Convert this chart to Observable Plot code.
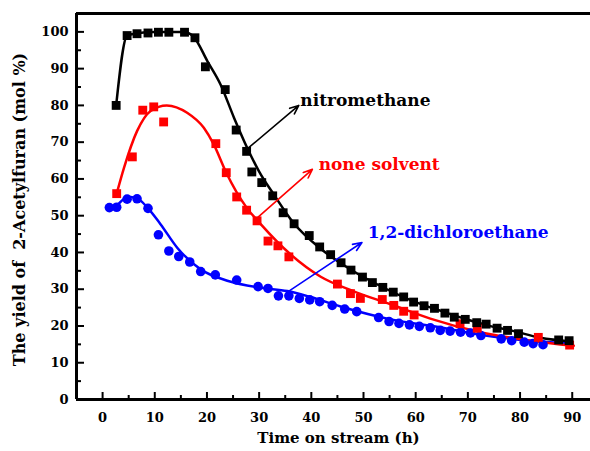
<!DOCTYPE html>
<html>
<head>
<meta charset="utf-8">
<script src="https://cdn.jsdelivr.net/npm/d3@7"></script>
<script src="https://cdn.jsdelivr.net/npm/@observablehq/plot@0.6"></script>
<style>
  html, body { margin: 0; padding: 0; background: #fff; }
</style>
</head>
<body>
<div id="chart"></div>
<script>
// ---- measured data points ----
const nitroX = [2.6,4.7,6.6,8.7,10.7,12.7,15.7,17.7,19.7,23.5,25.6,27.6,28.6,30.5,32.6,34.6,36.7,39.6,41.6,43.7,45.7,47.6,49.8,51.7,53.7,55.7,57.7,59.6,61.6,63.6,65.6,67.4,69.5,71.7,73.5,75.6,77.6,79.7,87.4,89.4];
const nitroY = [80.0,99.0,99.5,99.7,99.9,99.9,99.9,98.4,90.5,84.3,73.3,67.5,61.9,59.0,55.4,50.8,47.8,44.6,41.5,39.4,37.2,35.2,33.3,31.8,30.5,29.2,27.9,26.5,25.5,24.8,23.5,22.4,21.8,20.9,20.5,19.4,18.8,17.9,16.2,16.0];

const noneX = [2.7,5.7,7.7,9.8,11.7,21.7,23.7,25.7,27.6,29.6,31.7,33.6,35.7,45.0,47.5,49.4,53.6,55.8,57.7,59.7,68.5,71.8,83.5,89.5];
const noneY = [56.0,66.0,78.7,79.6,75.5,69.6,61.7,55.1,51.5,48.6,43.1,41.8,38.8,31.4,28.8,27.5,27.2,25.6,24.0,23.0,20.6,19.4,16.9,14.8];

const dceX = [1.3,2.7,4.7,6.6,8.7,10.7,12.7,14.6,16.7,18.8,21.6,25.7,29.8,31.7,33.7,35.7,37.7,39.7,41.6,44.0,46.4,48.7,52.9,54.9,56.8,58.8,60.7,62.8,64.7,66.6,68.6,70.5,72.5,76.4,78.4,80.8,82.5,84.4];
const dceY = [52.2,52.3,54.5,54.6,52.0,44.8,40.4,38.9,37.4,34.8,33.9,32.5,30.7,30.2,28.2,28.2,27.5,27.1,26.6,25.6,24.6,23.9,22.3,21.2,20.7,20.3,19.9,19.5,18.8,18.6,18.3,18.1,17.4,16.5,16.0,15.6,15.2,14.9];

// ---- fitted curves ----
const nitroFitX = [2.6,4.7,6.6,10,15.7,17.5,20.1,22.6,25.2,27.7,30,32.8,36.6,41.8,47.6,53.6,59.6,64.8,70,74,78.8,83.9,89.7];
const nitroFitY = [80,99,99.6,100,100,98.6,92,85.7,76.6,68.5,62,55.8,48,41,35.3,30.6,26.7,24.1,21.7,20.1,18.6,16.8,15.8];

const noneFitX = [2.7,4.1,6.6,9.2,12.3,16.2,19.4,21.3,23.7,27.6,30.3,36,41.8,48,55.2,62.8,72.4,82,90.3];
const noneFitY = [56,63,73,78.5,80,78,73.9,69.4,61.7,52.2,47.7,39.5,33.4,29.5,25.9,22,18.3,16,14.6];

const dceFitX = [1.3,2.7,4.3,5.4,7,8.6,11.1,14.3,18.8,23.9,30.3,35.4,40,45.6,55.2,64.8,72.4,82,89.5];
const dceFitY = [52.2,52.8,54.8,55.1,54.4,52.2,47.7,41.3,35.4,32.3,30.4,29.5,27.8,25.3,21.8,19.6,17.6,16,15.2];

// ---- annotations ----
const annotText = ["nitromethane", "none solvent", "1,2-dichloroethane"];
const annotX = [37.9, 41.4, 50.8];
const annotY = [81.2, 64.0, 45.3];
const arrowX1 = [28.0, 29.8, 35.7];
const arrowY1 = [68.5, 49.6, 29.5];
const arrowX2 = [37.6, 40.2, 49.7];
const arrowY2 = [80.0, 62.6, 42.7];
const seriesColor = ["#000000", "#ff0000", "#0000ff"];

// ---- axis titles and ticks ----
const xTitle = "Time on stream (h)";
const yTitle = "The yield of\u00a0 2-Acetylfuran (mol %)";
const xMajor = [0,10,20,30,40,50,60,70,80,90];
const xMinor = [5,15,25,35,45,55,65,75,85];
const yMajor = [0,10,20,30,40,50,60,70,80,90,100];
const yMinor = [5,15,25,35,45,55,65,75,85,95];
const xDomain = [-5, 93.5];
const yDomain = [0, 105];

const FONT = "DejaVu Serif";
const idx = a => a.map((_, i) => i);

function lineMark(xs, ys, color) {
  return Plot.line(idx(xs), {x: i => xs[i], y: i => ys[i], curve: "monotone-x", stroke: color, strokeWidth: 2.5});
}

const marks = [
  Plot.axisX({ticks: xMinor, tickSize: -4, tickFormat: () => "", strokeWidth: 2, label: null}),
  Plot.axisY({ticks: yMinor, tickSize: -5, tickFormat: () => "", strokeWidth: 2, label: null}),
  Plot.axisX({ticks: xMajor, tickSize: -7, tickPadding: 20, strokeWidth: 2, fontSize: 13, fontFamily: FONT, fontWeight: "bold", label: null}),
  Plot.axisY({ticks: yMajor, tickSize: -8, tickPadding: 16, strokeWidth: 2, fontSize: 13, fontFamily: FONT, fontWeight: "bold", label: null}),
  Plot.ruleY([yDomain[0]], {strokeWidth: 3}),
  Plot.ruleY([yDomain[1]], {strokeWidth: 3}),
  Plot.ruleX([xDomain[0]], {strokeWidth: 3}),
  Plot.text([xTitle], {frameAnchor: "bottom", text: d => d, dx: 5, dy: 39, lineAnchor: "middle", textAnchor: "middle",
                       fontSize: 15, fontFamily: FONT, fontWeight: "bold"}),
  Plot.text([yTitle], {frameAnchor: "left", text: d => d, dx: -57, dy: 3, rotate: -90, lineAnchor: "middle", textAnchor: "middle",
                       fontSize: 16, fontFamily: FONT, fontWeight: "bold"}),

  lineMark(dceFitX, dceFitY, seriesColor[2]),
  lineMark(noneFitX, noneFitY, seriesColor[1]),
  lineMark(nitroFitX, nitroFitY, seriesColor[0]),

  Plot.dot(idx(dceX), {x: i => dceX[i], y: i => dceY[i], r: 4.8, fill: seriesColor[2], symbol: "circle"}),
  Plot.dot(idx(noneX), {x: i => noneX[i], y: i => noneY[i], r: 5, fill: seriesColor[1], symbol: "square"}),
  Plot.dot(idx(nitroX), {x: i => nitroX[i], y: i => nitroY[i], r: 5, fill: seriesColor[0], symbol: "square"}),

  ...annotText.map((t, k) => Plot.arrow([k], {
    x1: () => arrowX1[k], y1: () => arrowY1[k], x2: () => arrowX2[k], y2: () => arrowY2[k],
    stroke: seriesColor[k], strokeWidth: 1.6, headLength: 9, headAngle: 45
  })),
  ...annotText.map((t, k) => Plot.text([t], {
    x: () => annotX[k], y: () => annotY[k], text: d => d, textAnchor: "start",
    fill: seriesColor[k], fontSize: 17, fontFamily: FONT, fontWeight: "bold"
  }))
];

const chart = Plot.plot({
  width: 590,
  height: 451,
  marginLeft: 76,
  marginRight: 0,
  marginTop: 13,
  marginBottom: 52,
  x: {domain: xDomain},
  y: {domain: yDomain},
  style: {fontFamily: FONT, fontWeight: "bold", color: "#000", background: "#fff"},
  marks
});
document.getElementById("chart").appendChild(chart);
</script>
</body>
</html>
